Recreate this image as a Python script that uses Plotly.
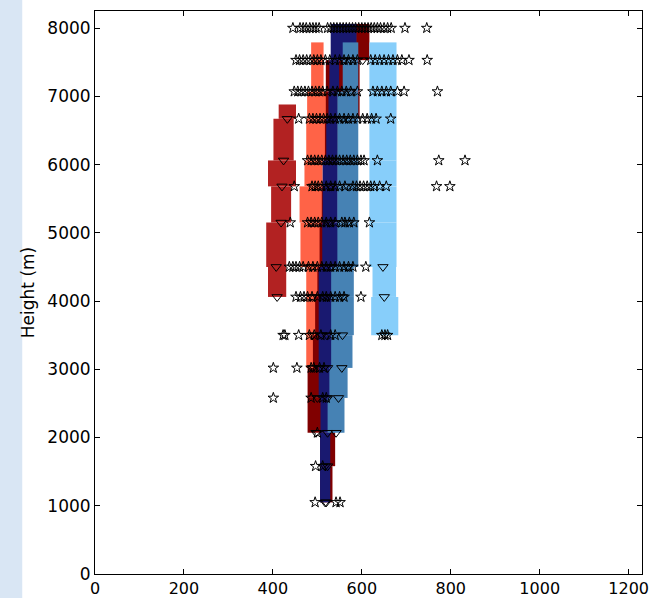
import plotly.graph_objects as go

# ---------------- data ----------------
# height levels (m) at which profiles are sampled
levels = [1050, 1580, 2070, 2580, 3020, 3500, 4060, 4500, 5150, 5680, 6060, 6670, 7070, 7530]

# profile series: bottom heights of each band, top of last band, band mean and half-spread
firebrick_h = [4060, 4500, 5150, 5680, 6060, 6670]
firebrick_top = 6880
firebrick_mean = [409.5, 407.5, 418.5, 420.5, 424, 432.5]
firebrick_half = [20.5, 22.5, 22.5, 31.5, 22.75, 19.5]

tomato_h = [3020, 3500, 4060, 4500, 5150, 5680, 6060, 6670, 7070, 7530]
tomato_top = 7790
tomato_mean = [489, 489, 489, 486.5, 486, 491.5, 496.5, 498.5, 500, 500]
tomato_half = [14, 14, 14, 24.5, 26, 20.5, 21.5, 21.5, 14, 14]

darkred_h = levels
darkred_top = 8060
darkred_mean = [520, 523, 497, 500, 505, 510, 515, 520, 525, 531, 533.5, 557, 557, 602]
darkred_half = [14, 17, 19, 22, 15, 15, 15, 15, 15, 14, 16.5, 38, 38, 15]

navy_h = levels
navy_top = 8060
navy_mean = [517.5, 517.5, 523, 523, 523, 521, 523, 531, 529, 529, 533, 535.5, 538, 559]
navy_half = [11.5, 11.5, 16, 20, 20, 18, 20, 20, 17, 17, 13, 10.5, 11, 29]

steelblue_h = [2070, 2580, 3020, 3500, 4060, 4500, 5150, 5680, 6060, 6670, 7070, 7530]
steelblue_top = 7790
steelblue_mean = [542, 547.5, 555, 556.5, 556.5, 568.5, 568.5, 568.5, 568.5, 568.5, 574.5, 574.5]
steelblue_half = [19, 20.5, 24, 25.5, 25.5, 23.5, 23.5, 23.5, 23.5, 23.5, 17.5, 17.5]

lightsky_h = [3500, 4060, 4500, 5150, 5680, 6060, 6670, 7070, 7530]
lightsky_top = 7790
lightsky_mean = [651.5, 650.5, 647.5, 647.5, 647.5, 647.5, 647.5, 647.5, 647.5]
lightsky_half = [30.5, 26.5, 30.5, 30.5, 30.5, 30.5, 30.5, 30.5, 30.5]
lightsky_marked = 3  # mean markers only on lowest levels

# individual observations (stars) per height level
s8000 = [445, 461, 468, 475, 483, 490, 497, 504, 523, 530, 537, 544, 551, 558, 565, 572, 579,
         586, 593, 600, 607, 614, 621, 628, 635, 642, 650, 658, 666, 697, 746]
s7530 = [452, 460, 468, 476, 484, 492, 500, 508, 518, 528, 540, 550, 560, 570, 580, 590,
         620, 630, 640, 650, 660, 670, 680, 690, 706, 747]
s7070 = [448, 456, 464, 472, 480, 488, 496, 504, 512, 522, 535, 545, 555, 565, 575, 590,
         625, 635, 645, 655, 665, 680, 695, 770]
s6670 = [458, 482, 490, 498, 506, 514, 522, 530, 540, 550, 560, 570, 580, 590, 602, 612,
         622, 632, 665]
s6060 = [478, 486, 494, 502, 510, 518, 526, 534, 542, 550, 558, 566, 574, 582, 590, 598,
         605, 635, 773, 832]
s5680 = [448, 488, 495, 502, 510, 520, 530, 540, 550, 562, 580, 588, 596, 604, 612, 620,
         628, 640, 655, 768, 798]
s5150 = [439, 478, 486, 494, 502, 510, 520, 530, 540, 555, 562, 572, 582, 617]
s4500 = [437, 445, 452, 460, 468, 480, 490, 500, 510, 520, 530, 540, 550, 560, 570, 580, 609]
s4060 = [452, 462, 470, 478, 488, 500, 512, 520, 530, 540, 550, 560, 598]
s3500 = [423, 427, 458, 482, 493, 508, 530, 540, 645, 652, 658]
s3020 = [401, 454, 486, 492, 505, 515]
s2580 = [401, 486, 512, 520]
s2070 = [500]
s1580 = [496, 512]
s1050 = [495, 542, 551]

star_levels = [8000, 7530, 7070, 6670, 6060, 5680, 5150, 4500, 4060, 3500, 3020, 2580, 2070, 1580, 1050]
star_values = [s8000, s7530, s7070, s6670, s6060, s5680, s5150, s4500, s4060, s3500, s3020,
               s2580, s2070, s1580, s1050]

x_ticks = [0, 200, 400, 600, 800, 1000, 1200]
y_ticks = [0, 1000, 2000, 3000, 4000, 5000, 6000, 7000, 8000]

# ---------------- figure ----------------
fig = go.Figure()

series = [
    (firebrick_h, firebrick_top, firebrick_mean, firebrick_half, "#b22222", None),
    (tomato_h, tomato_top, tomato_mean, tomato_half, "#ff6347", None),
    (darkred_h, darkred_top, darkred_mean, darkred_half, "#800000", None),
    (navy_h, navy_top, navy_mean, navy_half, "#191970", None),
    (steelblue_h, steelblue_top, steelblue_mean, steelblue_half, "#4682b4", None),
    (lightsky_h, lightsky_top, lightsky_mean, lightsky_half, "#87cefa", lightsky_marked),
]

tri_x, tri_y = [], []
for h, top, mean, half, color, nmark in series:
    bounds = list(h[1:]) + [top]
    fig.add_trace(go.Bar(
        x=mean, base=h, y=[b - a for a, b in zip(h, bounds)],
        width=[2 * w for w in half],
        marker=dict(color=color, line=dict(width=0)),
        showlegend=False, hoverinfo="skip",
    ))
    n = len(h) if nmark is None else nmark
    tri_x += list(mean[:n])
    tri_y += list(h[:n])

sx, sy = [], []
for lev, vals in zip(star_levels, star_values):
    sx += vals
    sy += [lev] * len(vals)

fig.add_trace(go.Scatter(
    x=sx, y=sy, mode="markers",
    marker=dict(symbol="star-open", size=8, color="black", line=dict(width=1, color="black")),
    showlegend=False, hoverinfo="skip",
))
fig.add_trace(go.Scatter(
    x=tri_x, y=tri_y, mode="markers",
    marker=dict(symbol="triangle-down-open", size=9, color="black", line=dict(width=1, color="black")),
    showlegend=False, hoverinfo="skip",
))

axis_common = dict(
    showline=True, linecolor="black", linewidth=1, mirror="ticks",
    ticks="inside", ticklen=5, tickcolor="black", tickwidth=1,
    showgrid=False, zeroline=False, automargin=False,
    ticklabeloverflow="allow",
)

fig.update_layout(
    width=650, height=598,
    margin=dict(l=95, r=8, t=11, b=24, autoexpand=False),
    paper_bgcolor="white", plot_bgcolor="white",
    barmode="overlay", hovermode=False,
    font=dict(family="DejaVu Sans", size=17, color="black"),
    xaxis=dict(range=[0, 1230], tickvals=x_ticks,
               tickfont=dict(family="DejaVu Sans", size=16, color="black"), **axis_common),
    yaxis=dict(range=[0, 8250], tickvals=y_ticks,
               tickfont=dict(family="DejaVu Sans", size=17, color="black"),
               title=dict(text="Height (m)", font=dict(family="DejaVu Sans", size=17, color="black"),
                          standoff=8),
               **axis_common),
    shapes=[dict(type="rect", xref="paper", yref="paper",
                 x0=-0.2, x1=-0.133, y0=-0.1, y1=1.1,
                 fillcolor="#d9e6f4", line=dict(width=0), layer="below")],
)

fig.write_html("out.html", config={"displayModeBar": False},
               post_script="document.body.style.margin='0px';document.body.style.overflow='hidden';")
